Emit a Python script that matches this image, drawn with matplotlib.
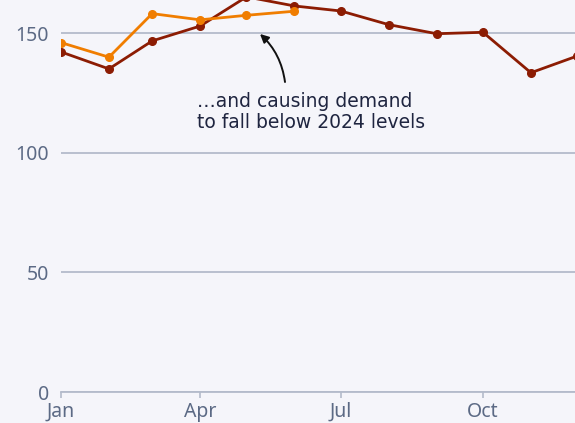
import matplotlib
matplotlib.use("Agg")
import matplotlib.pyplot as plt
import matplotlib.dates as mdates
import pandas as pd
import numpy as np

# ---- data ----
months = pd.date_range("2025-01-01", periods=12, freq="MS")
demand_2024 = [142.1, 135.0, 146.7, 152.9, 165.1, 161.3, 159.2, 153.5, 149.7, 150.3, 133.4, 140.4]
demand_2025 = [146.0, 139.9, 158.1, 155.5, 157.4, 159.1]
y_ticks = [0, 50, 100, 150]
x_tick_dates = ["2025-01-01", "2025-04-01", "2025-07-01", "2025-10-01"]
x_tick_labels = ["Jan", "Apr", "Jul", "Oct"]
annotation_text = "…and causing demand\nto fall below 2024 levels"

plt.rcParams["font.family"] = ["Noto Sans", "DejaVu Sans"]

BG = "#f5f5fa"
GRID = "#b4bbcb"
TICK_TXT = "#5c6a85"
TXT = "#1f2540"
C24 = "#8c1c03"
C25 = "#f07d00"

W, H = 575, 423
fig = plt.figure(figsize=(W / 100, H / 100), dpi=100)
fig.patch.set_facecolor(BG)

# pixel mapping
x0_px = 61.0          # Jan 1
px_per_day = 1.5458
y0_px = 392.0         # value 0 (from top)
px_per_unit = 2.3933

xmin = pd.Timestamp("2025-01-01")
xmax = pd.Timestamp("2025-12-31")
ndays = (xmax - xmin).days
ymax = 185
left = x0_px / W
bottom = (H - y0_px) / H
width = ndays * px_per_day / W
height = ymax * px_per_unit / H
ax = fig.add_axes([left, bottom, width, height])
ax.set_facecolor(BG)
ax.set_xlim(xmin, xmax)
ax.set_ylim(0, ymax)

for s in ["top", "right", "left"]:
    ax.spines[s].set_visible(False)
ax.spines["bottom"].set_color(GRID)
ax.spines["bottom"].set_linewidth(1.3)

ax.set_yticks(y_ticks)
ax.set_yticklabels([str(v) for v in y_ticks])
ax.yaxis.grid(True, color=GRID, linewidth=1.3)
ax.set_axisbelow(True)
ax.tick_params(axis="y", length=0, pad=8.5, labelsize=14, labelcolor=TICK_TXT)

ax.set_xticks([pd.Timestamp(d) for d in x_tick_dates])
ax.set_xticklabels(x_tick_labels)
ax.tick_params(axis="x", length=4, width=1.2, color=GRID, pad=3, labelsize=14, labelcolor=TICK_TXT)

ax.plot(months, demand_2024, color=C24, lw=2.0, marker="o", ms=5.5, zorder=3)
ax.plot(months[:len(demand_2025)], demand_2025, color=C25, lw=2.0, marker="o", ms=5.5, zorder=4)

# annotation
def px_to_data(px, py):
    d = xmin + pd.Timedelta(days=(px - x0_px) / px_per_day)
    v = (y0_px - py) / px_per_unit
    return mdates.date2num(d), v

tx, ty = px_to_data(197, 92)
ax.text(tx, ty, annotation_text, ha="left", va="top", multialignment="left",
        fontsize=13.5, color=TXT, linespacing=1.1, family=["DejaVu Sans"])
sx, sy = px_to_data(285, 82)
ex, ey = px_to_data(260, 34)
ax.annotate("", xy=(ex, ey), xytext=(sx, sy),
            arrowprops=dict(arrowstyle="-|>,head_length=0.5,head_width=0.25", color="#111111",
                            lw=1.4, connectionstyle="arc3,rad=0.18", shrinkA=0, shrinkB=0))

fig.savefig("out.png", dpi=100, facecolor=BG)
